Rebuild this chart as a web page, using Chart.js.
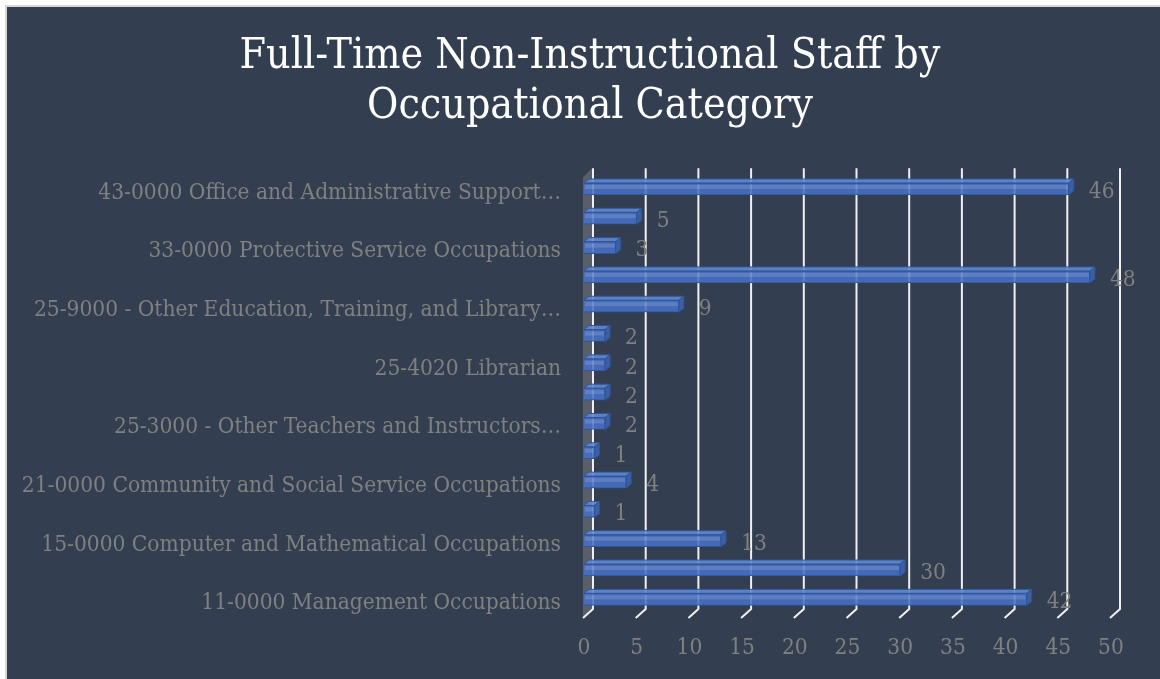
<!DOCTYPE html>
<html><head><meta charset="utf-8">
<script src="https://cdn.jsdelivr.net/npm/chart.js@4"></script>
<style>html,body{margin:0;padding:0;background:#fff;overflow:hidden}canvas{display:block}</style>
</head><body><canvas id="c" width="1160" height="679"></canvas>
<script>
const titleLines = ['Full-Time Non-Instructional Staff by', 'Occupational Category'];
const categories = [
  '43-0000 Office and Administrative Support\u2026',
  '41-0000 Sales and Related Occupations',
  '33-0000 Protective Service Occupations',
  '27-0000 Arts, Design, Entertainment, Sports, and Media\u2026',
  '25-9000 - Other Education, Training, and Library\u2026',
  '25-4030 Library Technician',
  '25-4020 Librarian',
  '25-4010 Archivists, Curators, and Museum Technicians',
  '25-3000 - Other Teachers and Instructors\u2026',
  '23-0000 Legal Occupations',
  '21-0000 Community and Social Service Occupations',
  '19-0000 Life, Physical, and Social Science Occupations',
  '15-0000 Computer and Mathematical Occupations',
  '13-0000 Business and Financial Operations Occupations',
  '11-0000 Management Occupations'
];
const staffCounts = [46, 5, 3, 48, 9, 2, 2, 2, 2, 1, 4, 1, 13, 30, 42];
const xTickValues = [0, 5, 10, 15, 20, 25, 30, 35, 40, 45, 50];

const FONT = '"DejaVu Serif Condensed", "DejaVu Serif", serif';
const GREY = '#808080';

const bgPlugin = {
  id: 'bg',
  beforeDraw(chart) {
    const c = chart.ctx, w = chart.width, h = chart.height;
    c.save();
    c.fillStyle = '#ffffff'; c.fillRect(0, 0, w, h);
    c.fillStyle = '#d6d6d6'; c.fillRect(5, 5, w - 5, h - 5);
    c.fillStyle = '#333e50'; c.fillRect(7, 7, w - 7, h - 7);
    c.restore();
  }
};

const gridPlugin = {
  id: 'grid3d',
  beforeDatasetsDraw(chart) {
    const c = chart.ctx, a = chart.chartArea, xs = chart.scales.x;
    const x0 = xs.getPixelForValue(0);
    c.save();
    c.fillStyle = '#585e6a';
    c.beginPath();
    c.moveTo(x0 - 1, a.top + 3);
    c.lineTo(x0 + 8, a.top - 6);
    c.lineTo(x0 + 8, a.bottom - 5);
    c.lineTo(x0 - 1, a.bottom + 4);
    c.closePath(); c.fill();
    c.strokeStyle = '#f0f0f0'; c.lineWidth = 2;
    xTickValues.forEach(v => {
      const xf = xs.getPixelForValue(v);
      c.beginPath();
      c.moveTo(xf + 9, a.top - 6);
      c.lineTo(xf + 9, a.bottom - 5);
      c.lineTo(xf - 1, a.bottom + 4);
      c.stroke();
    });
    c.restore();
  },
  afterDatasetsDraw(chart) {
    const c = chart.ctx, meta = chart.getDatasetMeta(0);
    const dx = 5, dy = 4;
    c.save();
    meta.data.forEach((el, i) => {
      const top = el.y - el.height / 2, bot = el.y + el.height / 2;
      const b = el.base, e = el.x;
      c.fillStyle = 'rgba(98,136,210,0.9)';
      c.strokeStyle = '#2f5597'; c.lineWidth = 1;
      c.beginPath();
      c.moveTo(b, top); c.lineTo(b + dx, top - dy); c.lineTo(e + dx, top - dy); c.lineTo(e, top); c.closePath();
      c.fill(); c.stroke();
      c.fillStyle = 'rgba(60,96,170,0.95)';
      c.beginPath();
      c.moveTo(e, top); c.lineTo(e + dx, top - dy); c.lineTo(e + dx, bot - dy); c.lineTo(e, bot); c.closePath();
      c.fill(); c.stroke();
      c.fillStyle = 'rgba(255,255,255,0.14)';
      c.fillRect(b + 1, top + 2, e - b - 2, 4);
      c.fillStyle = GREY;
      c.font = '22.5px ' + FONT;
      c.textAlign = 'left'; c.textBaseline = 'middle';
      c.fillText(String(staffCounts[i]), e + 20, el.y + 3);
    });
    c.restore();
  }
};

new Chart(document.getElementById('c'), {
  type: 'bar',
  data: {
    labels: categories,
    datasets: [{
      data: staffCounts,
      backgroundColor: 'rgba(72,112,196,0.88)',
      borderColor: '#2f5597',
      borderWidth: 1,
      barThickness: 12
    }]
  },
  options: {
    indexAxis: 'y',
    responsive: false,
    animation: false,
    events: [],
    layout: { padding: { left: 20, right: 0, top: 0, bottom: 0 } },
    plugins: {
      legend: { display: false },
      tooltip: { enabled: false },
      title: {
        display: true, text: titleLines, color: '#ffffff',
        font: { family: FONT, size: 42.5, weight: 'normal', lineHeight: 1.18 },
        padding: { top: 32, bottom: 42 }
      }
    },
    scales: {
      x: {
        min: 0, max: 50,
        afterBuildTicks: s => { s.ticks = xTickValues.map(v => ({ value: v })); },
        grid: { display: false, drawTicks: false },
        border: { display: false },
        ticks: { color: GREY, font: { family: FONT, size: 22.5 }, padding: 21 },
        afterFit: s => { s.height = 65; }
      },
      y: {
        grid: { display: false, drawTicks: false },
        border: { display: false },
        ticks: {
          autoSkip: false, color: GREY, font: { family: FONT, size: 22.5 }, padding: 23, labelOffset: 4,
          callback: (v, i) => (i % 2 === 0 ? categories[i] : '')
        },
        afterFit: s => { s.width = 564; }
      },
      yRight: {
        type: 'category', axis: 'y', position: 'right',
        grid: { display: false, drawTicks: false },
        border: { display: false },
        ticks: { display: false },
        afterFit: s => { s.width = 49; }
      }
    }
  },
  plugins: [bgPlugin, gridPlugin]
});
</script></body></html>
